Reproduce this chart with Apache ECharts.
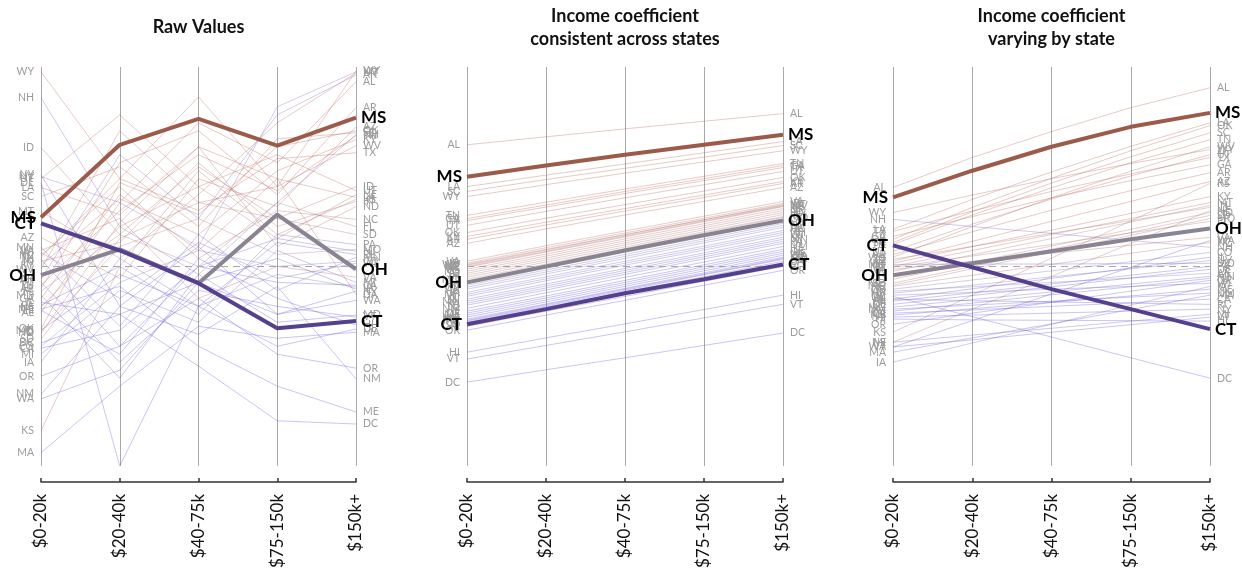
<!DOCTYPE html>
<html>
<head>
<meta charset="utf-8">
<script src="https://cdn.jsdelivr.net/npm/echarts@6/dist/echarts.min.js"></script>
<style>html,body{margin:0;padding:0;background:#fff}#c{width:1242px;height:571px}</style>
</head>
<body>
<div id="c"></div>
<script>
// ---------------- DATA ----------------
const incomeCategories = ['$0-20k', '$20-40k', '$40-75k', '$75-150k', '$150k+'];
const panelTitles = ['Raw Values', 'Income coefficient\nconsistent across states', 'Income coefficient\nvarying by state'];
const highlighted = ['MS', 'OH', 'CT'];

// Panel 1: raw values by income category (arbitrary 0-100 vertical scale)
const rawValues = {
  WY: [98.8, 72, 92.5, 70, 99], NH: [92.3, 60, 48, 66, 83], ID: [79.8, 58, 75, 62, 70],
  NY: [73, 40, 55, 38, 43.8], NV: [72.5, 66, 55, 90, 98.8], UT: [72, 88, 70, 78, 69],
  DE: [71, 0, 40, 30, 34.3], LA: [69.8, 63, 80, 72, 67.3], SC: [67.5, 75, 60, 82, 83.5],
  MT: [63.8, 52, 68, 86, 98.5], AZ: [57.3, 47, 72, 65, 85], MN: [54.8, 35, 58, 44, 52.3],
  VA: [54, 62, 42, 50, 47.3], WI: [53.5, 42, 56, 47, 50.8], NC: [52.8, 70, 52, 64, 61.8],
  TX: [52.3, 72, 64, 77, 78.5], NJ: [51.8, 30, 50, 57, 53.8], IN: [51.3, 56, 76, 60, 66.3],
  KY: [50.3, 67, 58, 74, 81.8], WV: [49.3, 84, 66, 70, 80.3], AK: [46.8, 78, 62, 88, 98],
  VT: [46, 26, 44, 40, 37.3], TN: [45.3, 64, 78, 69, 82.8], AR: [44.5, 76, 84, 68, 89.8],
  FL: [43.8, 58, 50, 66, 60], MD: [42.8, 22, 48, 36, 37.8], GA: [42, 68, 54, 72, 43],
  IL: [41, 38, 46, 52, 44.3], PA: [40.3, 50, 38, 58, 55.5], NE: [39.8, 60, 70, 57, 68],
  ME: [39.3, 45, 30, 20, 13.5], HI: [39, 28, 52, 42, 35.3], AL: [38.5, 66, 86, 76, 96.3],
  OK: [34.3, 71, 63, 80, 84], RI: [34, 48, 40, 56, 53], MO: [33.8, 55, 62, 53, 54.3],
  ND: [33.3, 61, 80, 55, 65], SD: [31.8, 57, 66, 62, 58], DC: [30.8, 38, 25, 11.3, 10.5],
  CO: [30, 46, 54, 50, 51.3], CA: [29.5, 34, 50, 46, 45.3], MI: [28, 44, 36, 54, 46],
  IA: [26, 52, 40, 48, 44.8], OR: [22.5, 30, 42, 28, 24.5], NM: [18, 40, 33, 45, 21.8],
  WA: [16.8, 24, 46, 38, 41.5], KS: [8.8, 50, 74, 58, 66.8], MA: [3.3, 20, 35, 32, 33.5],
  OH: [47.8, 54.3, 45.8, 63, 49.3], CT: [60.8, 54, 45.8, 34.5, 36.3], MS: [62.3, 80.5, 87, 80.3, 87.3]
};

// Panel 2: fitted values, income coefficient consistent across states
const consistentCoef = {
  AL: [80.5, 82.5, 84.5, 86.4, 88.3], LA: [70, 72.9, 75.7, 78.5, 81.3], SC: [68.8, 71.8, 74.6, 77.4, 80.3],
  WY: [67.5, 70.5, 73.4, 76.2, 79.0], TN: [62.8, 66.1, 69.4, 72.6, 75.8], GA: [62.0, 65.4, 68.8, 72.0, 75.3],
  TX: [61.5, 64.9, 68.3, 71.5, 74.8], UT: [60.3, 63.8, 67.2, 70.5, 73.8], OK: [58.5, 62.1, 65.5, 68.9, 72.3],
  KY: [57.5, 61.1, 64.5, 67.9, 71.3], AR: [56.8, 60.4, 63.9, 67.3, 70.8], AZ: [55.8, 59.4, 62.9, 66.3, 69.8],
  VA: [51.3, 55.2, 58.9, 62.6, 66.3], ID: [50.8, 54.7, 58.4, 62.1, 65.8], WV: [50.5, 54.3, 58.0, 61.7, 65.3],
  MT: [50.3, 54.1, 57.9, 61.7, 65.5], NC: [50.0, 53.8, 57.6, 61.4, 65.1], NE: [49.8, 53.6, 57.4, 61.2, 65.0],
  KS: [49.3, 53.1, 56.9, 60.7, 64.5], ND: [48.8, 52.6, 56.4, 60.2, 64.0], SD: [48.3, 52.1, 55.9, 59.7, 63.5],
  IN: [47.8, 51.6, 55.4, 59.2, 63.0], FL: [47.3, 51.1, 54.9, 58.7, 62.5], MO: [46.8, 50.6, 54.5, 58.4, 62.3],
  NV: [45.3, 49.1, 53.0, 56.9, 60.8], CO: [44.8, 48.6, 52.5, 56.4, 60.3], AK: [44.3, 48.1, 52.0, 55.9, 59.8],
  IA: [43.5, 47.4, 51.3, 55.1, 59.0], NH: [43.0, 46.9, 50.8, 54.6, 58.5], WI: [42.5, 46.4, 50.3, 54.1, 58.0],
  MI: [41.8, 45.6, 49.5, 53.4, 57.3], MN: [41.3, 45.1, 49.0, 52.9, 56.8], PA: [40.8, 44.6, 48.5, 52.4, 56.3],
  NJ: [40.3, 44.1, 48.0, 51.9, 55.8], NM: [39.5, 43.4, 47.3, 51.1, 55.0], IL: [38.8, 42.6, 46.5, 50.4, 54.3],
  DE: [38.3, 42.1, 46.0, 49.9, 53.8], ME: [37.8, 41.6, 45.5, 49.4, 53.3], WA: [37.3, 41.1, 45.0, 48.9, 52.8],
  MD: [36.8, 40.6, 44.5, 48.4, 52.3], MA: [36.5, 40.4, 44.3, 48.1, 52.0], NY: [36.3, 40.1, 44.0, 47.9, 51.8],
  CA: [36.0, 39.8, 43.6, 47.4, 51.3], RI: [35.0, 38.8, 42.5, 46.3, 50.0], OR: [34.0, 37.8, 41.5, 45.3, 49.0],
  HI: [28.5, 32.1, 35.6, 39.2, 42.8], VT: [26.8, 30.2, 33.6, 37.1, 40.5], DC: [21.0, 24.1, 27.1, 30.2, 33.3],
  OH: [46.0, 50.0, 54.0, 57.8, 61.5], CT: [35.5, 39.3, 43.3, 46.8, 50.5], MS: [72.5, 75.3, 78.0, 80.5, 83.0]
};

// Panel 3: fitted values, income coefficient varying by state
const varyingCoef = {
  AL: [69.8, 77.3, 83.8, 89.8, 94.8], LA: [59.3, 66.8, 73.7, 80.1, 86.0], OK: [56.8, 64.8, 72.1, 79.0, 85.3],
  SC: [56.0, 63.7, 70.9, 77.5, 83.5], TN: [55.5, 62.9, 69.7, 76.0, 81.8], WV: [52.3, 60.0, 67.2, 73.9, 80.0],
  WY: [63.5, 67.9, 72.0, 75.8, 79.3], UT: [53.8, 60.6, 66.9, 72.7, 78.0], TX: [58.8, 63.9, 68.8, 73.2, 77.3],
  GA: [57.5, 62.5, 67.2, 71.5, 75.5], AR: [53.0, 58.7, 64.1, 69.0, 73.5], AZ: [51.3, 56.3, 61.3, 66.3, 71.3],
  KS: [33.5, 42.8, 52.1, 61.4, 70.8], KY: [50.8, 55.0, 59.1, 63.3, 67.5], MT: [50.0, 54.0, 58.0, 62.0, 66.0],
  IN: [48.8, 52.9, 57.0, 61.1, 65.3], ID: [51.8, 55.0, 58.3, 61.5, 64.8], NE: [31.0, 39.3, 47.5, 55.8, 64.0],
  ND: [46.8, 51.0, 55.1, 59.3, 63.5], SD: [45.8, 50.0, 54.3, 58.5, 62.8], MO: [45.3, 49.4, 53.6, 57.8, 62.0],
  FL: [49.8, 52.6, 55.5, 58.4, 61.3], VA: [49.3, 51.3, 53.3, 55.3, 57.3], WA: [29.8, 36.4, 43.1, 49.8, 56.5],
  NC: [45.0, 47.8, 50.5, 53.3, 56.0], NH: [61.8, 60.0, 58.3, 56.5, 54.8], CO: [44.3, 46.6, 48.9, 51.2, 53.5],
  IL: [41.8, 44.4, 47.0, 49.6, 52.3], NV: [43.3, 45.3, 47.4, 49.4, 51.5], MD: [50.5, 50.6, 50.6, 50.7, 50.8],
  PA: [41.3, 43.4, 45.6, 47.8, 50.0], DE: [40.5, 42.7, 44.9, 47.1, 49.3], AK: [43.8, 44.9, 46.0, 47.1, 48.3],
  MN: [39.8, 41.7, 43.6, 45.6, 47.5], NJ: [38.8, 40.8, 42.9, 44.9, 47.0], OR: [35.5, 38.3, 41.0, 43.8, 46.5],
  WI: [42.8, 43.5, 44.3, 45.0, 45.8], IA: [26.0, 30.8, 35.5, 40.3, 45.0], ME: [37.8, 39.4, 41.0, 42.6, 44.3],
  NM: [39.3, 40.3, 41.3, 42.3, 43.3], CA: [38.3, 39.1, 40.0, 40.9, 41.8], NY: [37.3, 37.8, 38.3, 38.8, 39.3],
  MI: [31.0, 32.8, 34.5, 36.3, 38.0], VT: [29.8, 31.6, 33.5, 35.4, 37.3], HI: [36.8, 36.6, 36.5, 36.4, 36.3],
  RI: [41.8, 41.4, 41.1, 40.8, 40.5], MA: [28.5, 32.1, 35.6, 39.2, 42.8], DC: [42.5, 37.4, 32.3, 27.1, 22.0],
  OH: [47.8, 50.8, 53.8, 56.8, 59.5], CT: [55.3, 49.8, 44.3, 39.3, 34.3], MS: [67.3, 74.0, 80.0, 85.0, 88.5]
};
const referenceLevel = 50;

// ---------------- STYLE / LAYOUT ----------------
const FONT = "'Lato', 'Open Sans', 'DejaVu Sans', sans-serif";
const panelData = [rawValues, consistentCoef, varyingCoef];
const gridLefts = [41, 467, 893];
const gridWidths = [315, 316, 317];
const hiColors = { MS: '#9c5a4b', OH: '#8a8391', CT: '#55408e' };

function mix(a, b, t) { return a.map((x, i) => Math.round(x + (b[i] - x) * t)); }
function thinColor(st) {
  const v = consistentCoef[st][0];
  const red = [185, 95, 80], gray = [150, 138, 155], blue = [95, 80, 215];
  const t = Math.min(1, 0.45 + Math.abs(v - 46) / 14);
  const c = v >= 46 ? mix(gray, red, t) : mix(gray, blue, t);
  return 'rgb(' + c.join(',') + ')';
}

const grids = [], xAxes = [], yAxes = [], series = [], graphics = [];
for (let p = 0; p < 3; p++) {
  grids.push({ left: gridLefts[p], width: gridWidths[p], top: 67, height: 400 });
  xAxes.push({
    type: 'category', gridIndex: p, data: incomeCategories, boundaryGap: false,
    offset: 16,
    axisLine: { show: true, onZero: false, lineStyle: { color: '#333', width: 1.5 } },
    axisTick: { show: true, inside: true, length: 4, lineStyle: { color: '#333', width: 1.5 } },
    axisLabel: { rotate: 90, margin: 12, fontSize: 17, color: '#111', fontFamily: FONT },
    splitLine: { show: true, lineStyle: { color: '#a8a8a8', width: 1 } }
  });
  yAxes.push({ type: 'value', gridIndex: p, min: 0, max: 100, show: false });

  // dashed reference level
  series.push({
    type: 'line', xAxisIndex: p, yAxisIndex: p, data: [], silent: true, z: 1,
    markLine: {
      silent: true, symbol: 'none', label: { show: false }, animation: false,
      lineStyle: { type: [7, 5], color: '#a8a8a8', width: 1 },
      data: [{ yAxis: referenceLevel }]
    }
  });

  const dataObj = panelData[p];
  Object.keys(dataObj).forEach(st => {
    const hi = highlighted.includes(st);
    const col = hi ? hiColors[st] : thinColor(st);
    series.push({
      type: 'line', xAxisIndex: p, yAxisIndex: p, name: st + '_' + p,
      symbol: 'circle', symbolSize: 0, showSymbol: true, showAllSymbol: true,
      silent: true, animation: false,
      z: hi ? 10 : 2,
      lineStyle: { color: col, width: hi ? 4 : 0.8, opacity: hi ? 1 : 0.42 },
      itemStyle: { color: col },
      data: dataObj[st].map((v, j) => {
        const item = { value: v };
        if (j === 0 || j === 4) {
          item.label = {
            show: true, position: j === 0 ? 'left' : 'right', distance: hi ? 5 : 7,
            formatter: st, color: hi ? '#000' : '#9c9c9c',
            fontSize: hi ? 17 : 10.5, fontWeight: hi ? 'bold' : 'normal', fontFamily: FONT
          };
        }
        return item;
      })
    });
  });

  const cx = gridLefts[p] + gridWidths[p] / 2;
  const lines = panelTitles[p].split('\n');
  lines.forEach((t, k) => {
    graphics.push({
      type: 'text', x: cx, y: lines.length === 1 ? 27 : 16 + 23 * k,
      style: { text: t, textAlign: 'center', textVerticalAlign: 'middle',
        font: 'bold 18px ' + FONT, fill: '#111' }
    });
  });
}

const chart = echarts.init(document.getElementById('c'), null, { renderer: 'canvas' });
chart.setOption({
  animation: false,
  backgroundColor: '#fff',
  grid: grids, xAxis: xAxes, yAxis: yAxes, series: series, graphic: graphics
});
</script>
</body>
</html>
